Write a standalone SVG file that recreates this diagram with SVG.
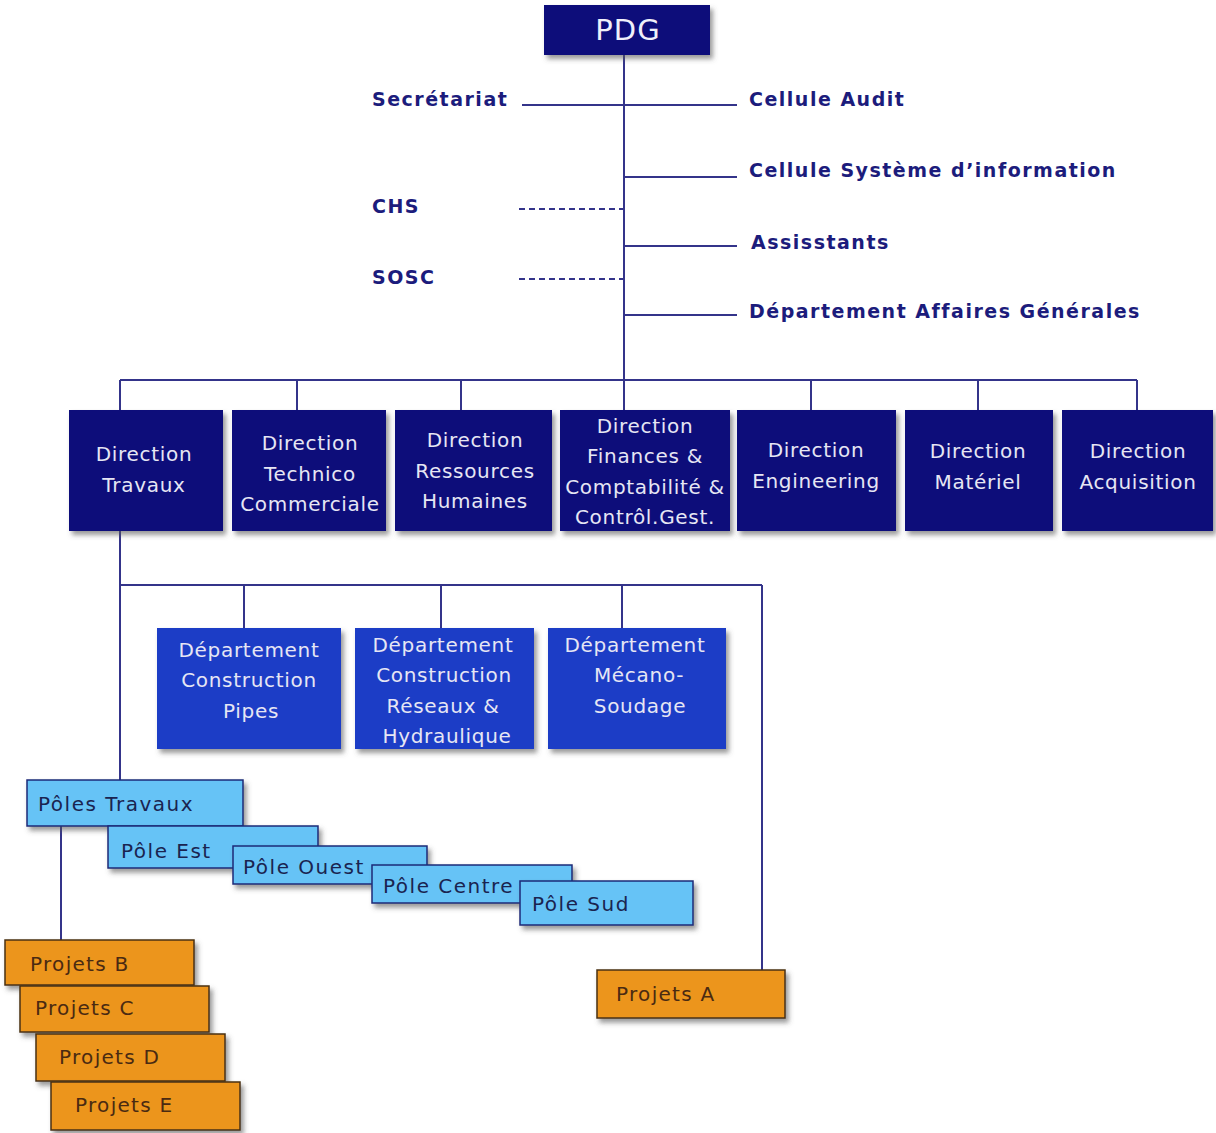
<svg xmlns="http://www.w3.org/2000/svg" width="1216" height="1133" viewBox="0 0 1216 1133">
<defs>
<filter id="sh" x="-10%" y="-10%" width="130%" height="140%">
<feDropShadow dx="3" dy="4" stdDeviation="2.5" flood-color="#555" flood-opacity="0.6"/>
</filter>
<style>
.ln{stroke:#34348a;stroke-width:2;fill:none}
.dash{stroke:#34348a;stroke-width:2;fill:none;stroke-dasharray:6,4}
.lbl{font-family:"DejaVu Sans",Verdana,sans-serif;font-weight:bold;font-size:19px;letter-spacing:1.5px;fill:#1c1c7c}
.dir{fill:#0f0f7a;filter:url(#sh)}
.dep{fill:#1a3ec6;filter:url(#sh)}
.pole{fill:#66c3f6;stroke:#1d2a78;stroke-width:1.5;filter:url(#sh)}
.proj{fill:#ec951f;stroke:#4a3010;stroke-width:1.5;filter:url(#sh)}
.wt{font-family:"DejaVu Sans",Verdana,sans-serif;font-size:20px;letter-spacing:0.7px;fill:#e6e6f4;text-anchor:middle}
.pt{font-family:"DejaVu Sans",Verdana,sans-serif;font-size:20px;letter-spacing:1.5px;fill:#1a2450}
.jt{font-family:"DejaVu Sans",Verdana,sans-serif;font-size:20px;letter-spacing:1.3px;fill:#4a2a12}
</style>
</defs>
<rect width="1216" height="1133" fill="#ffffff"/>
<g id="connectors">
<line class="ln" x1="624" y1="55" x2="624" y2="380"/>
<line class="ln" x1="522" y1="105" x2="737" y2="105"/>
<line class="ln" x1="624" y1="177" x2="737" y2="177"/>
<line class="dash" x1="519" y1="209" x2="624" y2="209"/>
<line class="ln" x1="624" y1="246" x2="737" y2="246"/>
<line class="dash" x1="519" y1="279" x2="624" y2="279"/>
<line class="ln" x1="624" y1="315" x2="737" y2="315"/>
<line class="ln" x1="120" y1="380" x2="1137" y2="380"/>
<line class="ln" x1="120" y1="380" x2="120" y2="410"/>
<line class="ln" x1="297" y1="380" x2="297" y2="410"/>
<line class="ln" x1="461" y1="380" x2="461" y2="410"/>
<line class="ln" x1="624" y1="380" x2="624" y2="410"/>
<line class="ln" x1="811" y1="380" x2="811" y2="410"/>
<line class="ln" x1="978" y1="380" x2="978" y2="410"/>
<line class="ln" x1="1137" y1="380" x2="1137" y2="410"/>
<line class="ln" x1="120" y1="531" x2="120" y2="780"/>
<line class="ln" x1="120" y1="585" x2="762" y2="585"/>
<line class="ln" x1="244" y1="585" x2="244" y2="628"/>
<line class="ln" x1="441" y1="585" x2="441" y2="628"/>
<line class="ln" x1="622" y1="585" x2="622" y2="628"/>
<line class="ln" x1="762" y1="585" x2="762" y2="970"/>
<line class="ln" x1="61" y1="826" x2="61" y2="940"/>
</g>
<g id="pdg">
<rect class="dir" x="544" y="5" width="166" height="50"/>
<text x="628" y="40" font-family="DejaVu Sans,Verdana,sans-serif" font-size="29" letter-spacing="1" fill="#f0f0fa" text-anchor="middle">PDG</text>
</g>
<g id="secretariat"><text class="lbl" x="372" y="106">Secrétariat</text></g>
<g id="cellule-audit"><text class="lbl" x="749" y="106">Cellule Audit</text></g>
<g id="cellule-si"><text class="lbl" x="749" y="177">Cellule Système d’information</text></g>
<g id="chs"><text class="lbl" x="372" y="213">CHS</text></g>
<g id="assisstants"><text class="lbl" x="751" y="249">Assisstants</text></g>
<g id="sosc"><text class="lbl" x="372" y="284">SOSC</text></g>
<g id="dag"><text class="lbl" x="749" y="318">Département Affaires Générales</text></g>

<g id="dir-travaux"><rect class="dir" x="69" y="410" width="154" height="121"/>
<text class="wt" x="144" y="461">Direction</text><text class="wt" x="144" y="492">Travaux</text></g>
<g id="dir-technico"><rect class="dir" x="232" y="410" width="154" height="121"/>
<text class="wt" x="310" y="450">Direction</text><text class="wt" x="310" y="481">Technico</text><text class="wt" x="310" y="511">Commerciale</text></g>
<g id="dir-rh"><rect class="dir" x="395" y="410" width="157" height="121"/>
<text class="wt" x="475" y="447">Direction</text><text class="wt" x="475" y="478">Ressources</text><text class="wt" x="475" y="508">Humaines</text></g>
<g id="dir-finances"><rect class="dir" x="560" y="410" width="170" height="121"/>
<text class="wt" x="645" y="433">Direction</text><text class="wt" x="645" y="463">Finances &amp;</text><text class="wt" x="645" y="494">Comptabilité &amp;</text><text class="wt" x="645" y="524">Contrôl.Gest.</text></g>
<g id="dir-engineering"><rect class="dir" x="737" y="410" width="159" height="121"/>
<text class="wt" x="816" y="457">Direction</text><text class="wt" x="816" y="488">Engineering</text></g>
<g id="dir-materiel"><rect class="dir" x="905" y="410" width="148" height="121"/>
<text class="wt" x="978" y="458">Direction</text><text class="wt" x="978" y="489">Matériel</text></g>
<g id="dir-acquisition"><rect class="dir" x="1062" y="410" width="151" height="121"/>
<text class="wt" x="1138" y="458">Direction</text><text class="wt" x="1138" y="489">Acquisition</text></g>

<g id="dep-pipes"><rect class="dep" x="157" y="628" width="184" height="121"/>
<text class="wt" x="249" y="657">Département</text><text class="wt" x="249" y="687">Construction</text><text class="wt" x="251" y="718">Pipes</text></g>
<g id="dep-reseaux"><rect class="dep" x="355" y="628" width="179" height="121"/>
<text class="wt" x="443" y="652">Département</text><text class="wt" x="444" y="682">Construction</text><text class="wt" x="443" y="713">Réseaux &amp;</text><text class="wt" x="447" y="743">Hydraulique</text></g>
<g id="dep-mecano"><rect class="dep" x="548" y="628" width="178" height="121"/>
<text class="wt" x="635" y="652">Département</text><text class="wt" x="639" y="682">Mécano-</text><text class="wt" x="640" y="713">Soudage</text></g>

<g id="poles-travaux"><rect class="pole" x="27" y="780" width="216" height="46"/>
<text class="pt" x="38" y="811">Pôles Travaux</text></g>
<g id="pole-est"><rect class="pole" x="108" y="826" width="210" height="42"/>
<text class="pt" x="121" y="858">Pôle Est</text></g>
<g id="pole-ouest"><rect class="pole" x="233" y="846" width="194" height="38"/>
<text class="pt" x="243" y="874">Pôle Ouest</text></g>
<g id="pole-centre"><rect class="pole" x="372" y="865" width="200" height="38"/>
<text class="pt" x="383" y="893">Pôle Centre</text></g>
<g id="pole-sud"><rect class="pole" x="520" y="881" width="173" height="44"/>
<text class="pt" x="532" y="911">Pôle Sud</text></g>

<g id="projets-b"><rect class="proj" x="5" y="940" width="189" height="45"/>
<text class="jt" x="30" y="971">Projets B</text></g>
<g id="projets-c"><rect class="proj" x="20" y="986" width="189" height="46"/>
<text class="jt" x="35" y="1015">Projets C</text></g>
<g id="projets-d"><rect class="proj" x="36" y="1034" width="189" height="47"/>
<text class="jt" x="59" y="1064">Projets D</text></g>
<g id="projets-e"><rect class="proj" x="51" y="1082" width="189" height="48"/>
<text class="jt" x="75" y="1112">Projets E</text></g>
<g id="projets-a"><rect class="proj" x="597" y="970" width="188" height="48"/>
<text class="jt" x="616" y="1001">Projets A</text></g>
</svg>
